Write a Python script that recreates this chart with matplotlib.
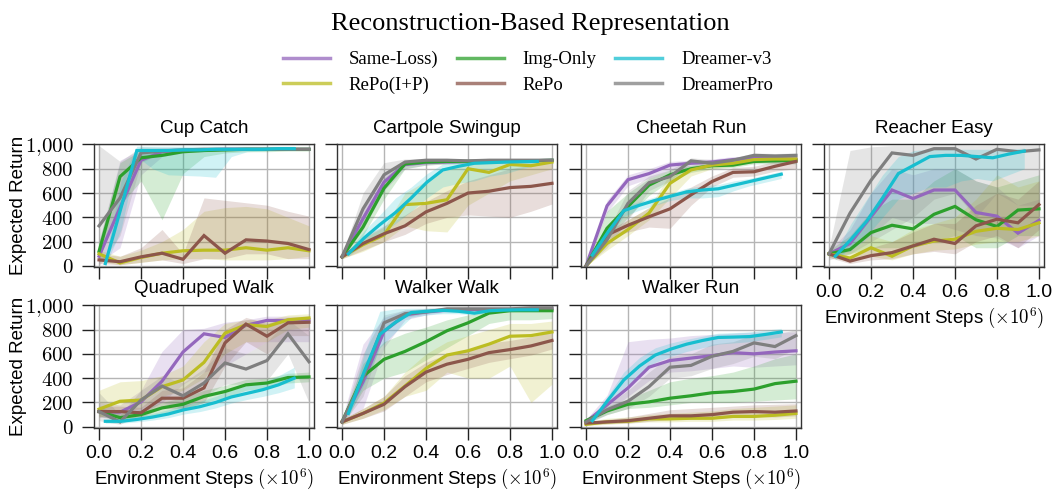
import matplotlib
matplotlib.use("Agg")
import matplotlib.pyplot as plt
from matplotlib.lines import Line2D
from matplotlib.ticker import FuncFormatter, MultipleLocator

plt.rcParams['mathtext.fontset'] = 'cm'
plt.rcParams['font.family'] = ['Liberation Sans', 'DejaVu Sans']

steps = [0.0, 0.1, 0.2, 0.3, 0.4, 0.5, 0.6, 0.7, 0.8, 0.9, 1.0]
dv3_steps = [0.03, 0.105, 0.18, 0.255, 0.33, 0.405, 0.48, 0.555, 0.63, 0.705, 0.78, 0.855, 0.93]

methods = ['Same-Loss)', 'RePo(I+P)', 'Img-Only', 'RePo', 'Dreamer-v3', 'DreamerPro']
colors = {'Same-Loss)': '#9467bd', 'Img-Only': '#2ca02c', 'Dreamer-v3': '#17becf',
          'RePo(I+P)': '#bcbd22', 'RePo': '#8c564b', 'DreamerPro': '#7f7f7f'}
draw_order = ['Same-Loss)', 'Img-Only', 'RePo(I+P)', 'RePo', 'DreamerPro', 'Dreamer-v3']

# (mean, lower, upper) for every method
cup_catch = {
    'Same-Loss)': ([80, 480, 870, 940, 950, 955, 960, 960, 960, 960, 960],
                   [30, 150, 750, 900, 930, 940, 945, 950, 950, 950, 950],
                   [200, 870, 960, 970, 975, 975, 975, 975, 975, 975, 975]),
    'Img-Only': ([120, 735, 890, 910, 940, 950, 955, 960, 960, 960, 960],
                 [60, 500, 700, 380, 760, 900, 930, 940, 940, 945, 945],
                 [200, 850, 950, 960, 965, 970, 970, 970, 970, 970, 970]),
    'Dreamer-v3': ([20, 480, 950, 950, 950, 955, 955, 960, 960, 960, 960, 965, 965],
                   [0, 300, 900, 800, 750, 745, 740, 730, 900, 940, 945, 950, 950],
                   [60, 700, 985, 985, 985, 985, 985, 985, 985, 985, 985, 985, 985]),
    'RePo(I+P)': ([100, 25, 70, 105, 125, 130, 130, 150, 130, 150, 125],
                  [40, 10, 30, 50, 60, 60, 50, 50, 50, 60, 80],
                  [130, 80, 130, 200, 300, 450, 480, 490, 470, 400, 330]),
    'RePo': ([50, 35, 75, 105, 55, 250, 105, 215, 205, 185, 135],
             [20, 10, 30, 50, 20, 60, 60, 100, 100, 60, 60],
             [100, 80, 150, 300, 100, 560, 540, 520, 500, 450, 410]),
    'DreamerPro': ([330, 560, 930, 945, 955, 960, 960, 960, 960, 960, 960],
                   [0, 250, 850, 930, 940, 945, 950, 950, 950, 950, 950],
                   [990, 860, 980, 975, 975, 975, 975, 975, 975, 975, 975]),
}

cartpole_swingup = {
    'Same-Loss)': ([75, 390, 690, 835, 850, 855, 860, 860, 860, 865, 870],
                   [60, 300, 620, 800, 830, 840, 845, 845, 845, 850, 855],
                   [90, 470, 760, 860, 870, 870, 875, 875, 875, 880, 885]),
    'Img-Only': ([75, 320, 640, 840, 855, 860, 860, 860, 865, 865, 870],
                 [60, 250, 550, 800, 830, 840, 840, 845, 850, 850, 855],
                 [90, 420, 720, 870, 870, 875, 875, 875, 880, 880, 885]),
    'Dreamer-v3': ([100, 230, 340, 440, 560, 690, 790, 820, 845, 850, 855, 858, 860],
                   [80, 180, 260, 350, 450, 560, 650, 680, 700, 740, 760, 800, 830],
                   [120, 290, 420, 560, 650, 760, 840, 860, 870, 870, 870, 870, 870]),
    'RePo(I+P)': ([75, 175, 255, 505, 515, 545, 800, 770, 835, 825, 855],
                  [60, 120, 200, 330, 290, 280, 500, 600, 700, 750, 800],
                  [90, 230, 320, 600, 700, 800, 850, 860, 870, 870, 875]),
    'RePo': ([75, 185, 265, 330, 445, 515, 600, 615, 645, 655, 680],
             [60, 130, 200, 260, 350, 400, 420, 410, 400, 450, 510],
             [90, 240, 330, 420, 530, 620, 700, 750, 800, 830, 860]),
    'DreamerPro': ([75, 470, 750, 855, 870, 870, 865, 870, 870, 870, 870],
                   [60, 350, 650, 820, 850, 855, 855, 860, 860, 860, 860],
                   [90, 600, 850, 880, 885, 885, 880, 885, 885, 885, 885]),
}

cheetah_run = {
    'Same-Loss)': ([0, 495, 710, 760, 830, 845, 855, 875, 885, 885, 880],
                   [0, 440, 660, 720, 790, 810, 820, 840, 850, 850, 845],
                   [0, 540, 750, 800, 860, 870, 880, 900, 905, 905, 900]),
    'Img-Only': ([0, 310, 490, 665, 750, 800, 825, 830, 860, 865, 870],
                 [0, 220, 400, 580, 700, 770, 800, 810, 840, 840, 840],
                 [0, 450, 600, 720, 790, 830, 850, 860, 880, 885, 890]),
    'Dreamer-v3': ([90, 280, 455, 500, 540, 575, 610, 625, 635, 665, 695, 725, 755],
                   [60, 230, 410, 460, 500, 540, 560, 560, 570, 620, 660, 690, 720],
                   [120, 320, 490, 530, 570, 600, 640, 660, 670, 700, 720, 750, 780]),
    'RePo(I+P)': ([0, 185, 300, 435, 680, 790, 830, 845, 875, 880, 880],
                  [0, 130, 250, 380, 560, 740, 800, 820, 850, 860, 860],
                  [0, 250, 380, 480, 760, 820, 850, 865, 890, 895, 895]),
    'RePo': ([0, 255, 335, 405, 470, 585, 695, 770, 775, 820, 860],
             [0, 220, 280, 320, 310, 500, 650, 730, 740, 780, 800],
             [0, 290, 380, 480, 560, 650, 740, 810, 820, 860, 890]),
    'DreamerPro': ([0, 215, 515, 685, 735, 865, 845, 870, 910, 905, 910],
                   [0, 150, 380, 620, 700, 840, 820, 850, 890, 890, 890],
                   [0, 280, 620, 740, 790, 890, 875, 890, 930, 925, 930]),
}

reacher_easy = {
    'Same-Loss)': ([100, 185, 405, 625, 555, 625, 625, 440, 410, 270, 375],
                   [80, 120, 250, 400, 350, 350, 300, 250, 230, 150, 250],
                   [130, 300, 600, 800, 750, 800, 800, 700, 650, 500, 550]),
    'Img-Only': ([100, 135, 275, 335, 305, 425, 490, 380, 325, 460, 470],
                 [80, 100, 150, 150, 150, 200, 250, 150, 150, 250, 250],
                 [130, 250, 450, 550, 550, 700, 800, 700, 650, 700, 750]),
    'Dreamer-v3': ([80, 220, 370, 560, 760, 830, 900, 910, 910, 900, 890, 920, 945],
                   [50, 150, 250, 400, 550, 600, 650, 650, 700, 720, 700, 750, 800],
                   [110, 350, 550, 750, 900, 950, 960, 960, 960, 960, 960, 960, 970]),
    'RePo(I+P)': ([100, 65, 150, 80, 165, 205, 220, 285, 310, 300, 355],
                  [70, 40, 80, 50, 100, 130, 140, 180, 200, 200, 250],
                  [130, 120, 250, 200, 300, 350, 400, 550, 750, 650, 700]),
    'RePo': ([100, 40, 85, 110, 165, 220, 185, 330, 385, 355, 505],
             [70, 20, 50, 60, 100, 120, 100, 200, 250, 150, 300],
             [130, 80, 150, 200, 280, 350, 350, 500, 600, 550, 700]),
    'DreamerPro': ([100, 435, 705, 930, 910, 965, 965, 880, 960, 940, 955],
                   [50, 100, 200, 300, 400, 550, 600, 400, 600, 500, 500],
                   [150, 950, 980, 990, 990, 995, 995, 990, 995, 995, 995]),
}

quadruped_walk = {
    'Same-Loss)': ([125, 120, 205, 375, 615, 765, 735, 835, 875, 875, 880],
                   [80, 60, 120, 200, 350, 450, 500, 600, 700, 700, 700],
                   [200, 180, 300, 620, 800, 810, 860, 880, 910, 910, 910]),
    'Img-Only': ([125, 75, 100, 155, 185, 250, 290, 345, 360, 405, 410],
                 [90, 50, 70, 110, 140, 200, 240, 300, 320, 360, 370],
                 [160, 110, 140, 200, 240, 300, 340, 390, 400, 440, 450]),
    'Dreamer-v3': ([45, 45, 60, 80, 105, 140, 165, 200, 245, 275, 305, 345, 400],
                   [30, 30, 40, 55, 75, 105, 125, 155, 195, 225, 250, 280, 320],
                   [60, 70, 85, 110, 140, 180, 210, 250, 300, 340, 370, 420, 490]),
    'RePo(I+P)': ([145, 210, 220, 330, 385, 530, 770, 840, 825, 880, 895],
                  [80, 120, 150, 250, 300, 400, 600, 700, 700, 800, 820],
                  [300, 370, 380, 420, 500, 700, 850, 880, 880, 920, 930]),
    'RePo': ([125, 125, 115, 235, 235, 320, 690, 845, 745, 855, 860],
             [80, 80, 80, 150, 150, 200, 500, 700, 600, 750, 750],
             [170, 170, 160, 300, 320, 450, 800, 900, 850, 900, 900]),
    'DreamerPro': ([125, 40, 220, 335, 255, 360, 525, 475, 545, 765, 535],
                   [50, 20, 100, 200, 150, 250, 350, 350, 380, 600, 200],
                   [280, 100, 300, 420, 360, 480, 650, 600, 700, 880, 750]),
}

walker_walk = {
    'Same-Loss)': ([40, 370, 785, 920, 945, 960, 965, 965, 965, 970, 970],
                   [20, 150, 650, 880, 920, 945, 950, 950, 950, 955, 955],
                   [60, 680, 900, 960, 970, 980, 980, 980, 980, 980, 980]),
    'Img-Only': ([40, 415, 555, 620, 700, 790, 855, 935, 955, 955, 955],
                 [20, 300, 400, 450, 550, 650, 750, 850, 880, 880, 890],
                 [60, 520, 700, 770, 820, 880, 920, 960, 970, 970, 970]),
    'Dreamer-v3': ([110, 450, 760, 860, 940, 950, 958, 950, 935, 955, 960, 962, 962],
                   [80, 350, 650, 780, 900, 920, 930, 930, 920, 940, 945, 950, 950],
                   [140, 600, 950, 970, 975, 975, 975, 975, 975, 975, 975, 975, 975]),
    'RePo(I+P)': ([40, 110, 195, 335, 480, 590, 625, 680, 745, 750, 780],
                  [20, 70, 140, 250, 300, 450, 400, 400, 500, 200, 350],
                  [60, 150, 250, 450, 600, 700, 750, 800, 850, 850, 870]),
    'RePo': ([40, 110, 185, 330, 450, 515, 555, 610, 635, 665, 710],
             [20, 70, 130, 250, 370, 430, 480, 530, 560, 590, 640],
             [60, 150, 250, 420, 530, 600, 630, 690, 710, 740, 780]),
    'DreamerPro': ([40, 400, 855, 930, 945, 970, 970, 970, 970, 978, 978],
                   [20, 250, 780, 900, 930, 955, 955, 955, 955, 965, 965],
                   [60, 600, 920, 960, 975, 985, 985, 985, 985, 990, 990]),
}

walker_run = {
    'Same-Loss)': ([40, 180, 320, 490, 545, 565, 585, 610, 600, 615, 625],
                   [20, 120, 250, 380, 450, 460, 480, 500, 490, 500, 510],
                   [60, 260, 700, 720, 730, 750, 760, 770, 780, 780, 780]),
    'Img-Only': ([50, 130, 185, 205, 235, 255, 280, 290, 310, 355, 375],
                 [30, 100, 150, 160, 180, 200, 200, 200, 210, 220, 230],
                 [70, 170, 230, 300, 370, 400, 420, 450, 500, 560, 600]),
    'Dreamer-v3': ([50, 220, 385, 500, 590, 640, 680, 710, 735, 738, 742, 760, 780],
                   [40, 180, 320, 430, 530, 580, 620, 650, 680, 690, 700, 720, 740],
                   [60, 260, 450, 570, 650, 690, 720, 745, 770, 775, 780, 795, 810]),
    'RePo(I+P)': ([20, 40, 45, 65, 65, 70, 70, 85, 85, 95, 110],
                  [10, 20, 30, 40, 40, 45, 45, 55, 55, 60, 70],
                  [40, 70, 80, 100, 110, 120, 130, 150, 160, 170, 180]),
    'RePo': ([30, 40, 50, 70, 90, 90, 100, 120, 125, 120, 130],
             [15, 25, 30, 45, 60, 60, 65, 80, 85, 80, 90],
             [45, 60, 80, 110, 140, 150, 160, 170, 180, 185, 190]),
    'DreamerPro': ([40, 140, 210, 330, 490, 505, 580, 620, 690, 660, 750],
                   [20, 100, 150, 250, 400, 420, 480, 520, 580, 560, 640],
                   [60, 180, 300, 450, 580, 600, 680, 700, 760, 760, 800]),
}

# title, data, column, row, show x labels
panels = [
    ('Cup Catch', cup_catch, 0, 0, False),
    ('Cartpole Swingup', cartpole_swingup, 1, 0, False),
    ('Cheetah Run', cheetah_run, 2, 0, False),
    ('Reacher Easy', reacher_easy, 3, 0, True),
    ('Quadruped Walk', quadruped_walk, 0, 1, True),
    ('Walker Walk', walker_walk, 1, 1, True),
    ('Walker Run', walker_run, 2, 1, True),
]

W, H = 1053, 493
fig = plt.figure(figsize=(W / 100, H / 100), dpi=100)

col_left = [94, 337, 581, 824]
row_bottom = [266.7, 427.5]
ax_w, ax_h = 220, 123

ytick_fmt = FuncFormatter(lambda v, p: r'$%s$' % f'{int(v):,}'.replace(',', '{,}'))

for title, data, c, r, show_x in panels:
    ax = fig.add_axes([col_left[c] / W, 1 - row_bottom[r] / H, ax_w / W, ax_h / H])
    for m in draw_order:
        mean, lo, hi = data[m]
        xs = dv3_steps if m == 'Dreamer-v3' else steps
        ax.fill_between(xs, lo, hi, color=colors[m], alpha=0.2, lw=0)
    for m in draw_order:
        mean, lo, hi = data[m]
        xs = dv3_steps if m == 'Dreamer-v3' else steps
        ax.plot(xs, mean, color=colors[m], lw=2.3, solid_joinstyle='miter')

    ax.set_xlim(-0.024, 1.024)
    ax.set_ylim(-6, 1006)
    ax.xaxis.set_major_locator(MultipleLocator(0.2))
    ax.yaxis.set_major_locator(MultipleLocator(200))
    ax.grid(True, color='#b5b5b5', lw=1.0)
    ax.set_axisbelow(True)
    for s in ax.spines.values():
        s.set_color('#333333')
        s.set_linewidth(1.0)
    ax.tick_params(direction='out', length=8.5, width=1.0, color='#222222', pad=5)
    ax.yaxis.set_major_formatter(ytick_fmt)
    ax.tick_params(axis='y', labelsize=15, pad=6)
    ax.tick_params(axis='x', labelsize=14, pad=4)
    if c != 0:
        ax.tick_params(axis='y', labelleft=False)
    else:
        ax.set_ylabel('Expected Return', fontsize=13.5)
        ax.yaxis.set_label_coords(-0.305, 0.5)
    if show_x:
        ax.xaxis.set_major_formatter(FuncFormatter(lambda v, p: f'{v:.1f}'))
        ax.set_xlabel(r'Environment Steps $(\times 10^6)$', fontsize=13.5, labelpad=3.5)
    else:
        ax.tick_params(axis='x', labelbottom=False)
    ax.set_title(title, fontsize=13.5, pad=8)

fig.text(0.504, 1 - 24 / H, 'Reconstruction-Based Representation',
         ha='center', va='center', fontsize=19, family=['Liberation Serif'])

handles = [Line2D([], [], color=colors[m], lw=2.5, alpha=0.75) for m in methods]
fig.legend(handles, methods, loc='center', bbox_to_anchor=(528 / W, 1 - 72.5 / H),
           ncol=3, frameon=False, handlelength=2.5, handletextpad=1.0,
           columnspacing=1.0, labelspacing=0.45,
           prop={'family': 'Liberation Serif', 'size': 13.5})

fig.savefig('out.png', dpi=100)
